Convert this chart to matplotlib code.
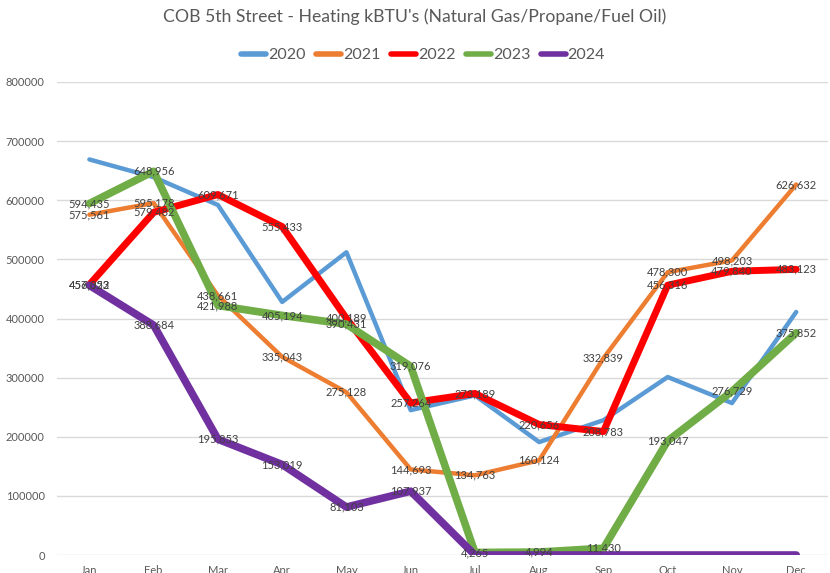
import matplotlib
matplotlib.use("Agg")
import matplotlib.pyplot as plt

months = ["Jan", "Feb", "Mar", "Apr", "May", "Jun", "Jul", "Aug", "Sep", "Oct", "Nov", "Dec"]
series_names = ["2020", "2021", "2022", "2023", "2024"]

v2020 = [669000, 639000, 592000, 428000, 512000, 245000, 270000, 191000, 228000, 301000, 257000, 411000]
v2021 = [575561, 595178, 438661, 335043, 275128, 144693, 134763, 160124, 332839, 478300, 498203, 626632]
v2022 = [457323, 579482, 609671, 555433, 400189, 257264, 273189, 220656, 208783, 456316, 479840, 483123]
v2023 = [594435, 648956, 421988, 405194, 390431, 319076, 4265, 4994, 11430, 193047, 276729, 375852]
v2024 = [456052, 388684, 195853, 153019, 81103, 107937, 0, 0, 0, 0, 0, 0]

show_labels = [False, True, True, True, True]
colors = ["#5B9BD5", "#ED7D31", "#FF0000", "#70AD47", "#7030A0"]
widths = [3.2, 3.2, 5.0, 5.5, 5.5]

plt.rcParams['font.family'] = ['Lato', 'DejaVu Sans']
fig = plt.figure(figsize=(8.3, 5.73), dpi=100)
ax = fig.add_axes([0.069, 0.0314, 0.929, 0.8255])

values = [v2020, v2021, v2022, v2023, v2024]
x = list(range(len(months)))
for i, (name, vals) in enumerate(zip(series_names, values)):
    ax.plot(x, vals, color=colors[i], lw=widths[i], label=name,
            solid_capstyle='round', solid_joinstyle='round', zorder=2 + i)

for i, vals in enumerate(values):
    if not show_labels[i]:
        continue
    for xi, v in zip(x, vals):
        if v == 0:
            continue
        ax.text(xi, v, f"{v:,}", ha='center', va='center', fontsize=8,
                color='#404040', zorder=20)

ax.set_xlim(-0.5, 11.5)
ax.set_ylim(0, 800000)
ax.set_yticks(range(0, 800001, 100000))
ax.set_yticklabels([str(t) for t in range(0, 800001, 100000)])
ax.set_xticks(x)
ax.set_xticklabels(months)
ax.grid(axis='y', color='#D9D9D9', lw=1)
ax.set_axisbelow(True)
for s in ax.spines.values():
    s.set_visible(False)
ax.tick_params(axis='both', length=0, labelsize=8, colors='#595959')
ax.tick_params(axis='x', pad=7)
ax.tick_params(axis='y', pad=9)

fig.text(0.5, 0.97, "COB 5th Street - Heating kBTU's (Natural Gas/Propane/Fuel Oil)",
         ha='center', va='center', fontsize=12.7, color='#595959')
leg = fig.legend(loc='center', bbox_to_anchor=(0.51, 0.904), ncol=5, frameon=False,
                 fontsize=11.5, handlelength=1.55, handletextpad=0.1, columnspacing=0.7)
for t in leg.get_texts():
    t.set_color('#595959')
for h in leg.get_lines():
    h.set_linewidth(4)

fig.savefig("out.png", dpi=100)
